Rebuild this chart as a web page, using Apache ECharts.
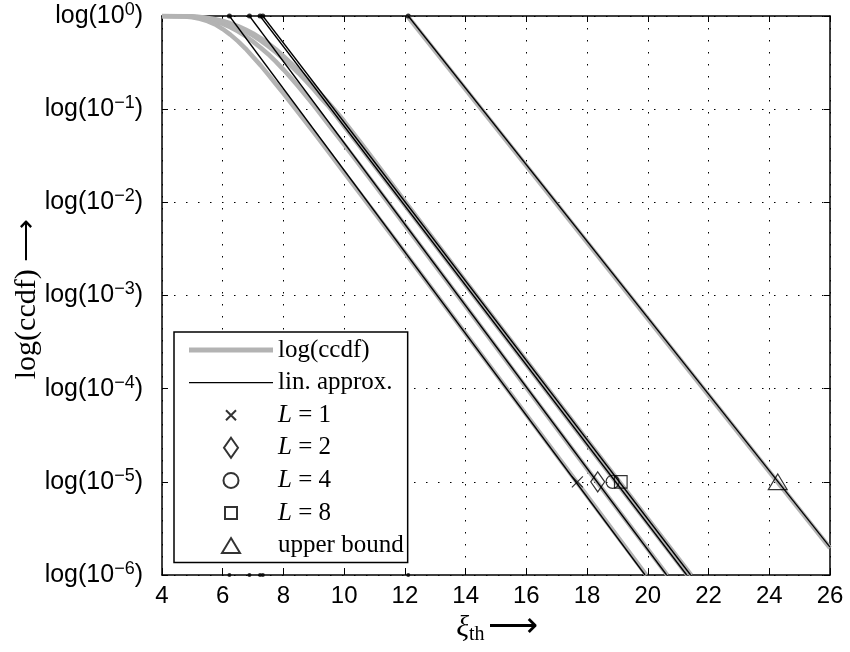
<!DOCTYPE html>
<html>
<head>
<meta charset="utf-8">
<script src="https://cdn.jsdelivr.net/npm/echarts@6/dist/echarts.min.js"></script>
<style>html,body{margin:0;padding:0;background:#fff}#c{width:850px;height:652px}</style>
</head>
<body>
<div id="c"></div>
<script>
// ---- data (x = xi_th, y = exponent of ccdf, i.e. log10) ----
const xTicks = [4, 6, 8, 10, 12, 14, 16, 18, 20, 22, 24, 26];
const yTicks = [-6, -5, -4, -3, -2, -1, 0];

// gray curves: log10(ccdf)
const ccdfL1 = [[4,0],[4.5,-0.002],[4.75,-0.005],[5,-0.013],[5.25,-0.03],[5.5,-0.055],[5.75,-0.09],[6,-0.14],[6.25,-0.2],[6.5,-0.27],[6.75,-0.35],[7,-0.44],[7.25,-0.53],[7.5,-0.63],[7.75,-0.73],[8,-0.83],[8.25,-0.935],[8.5,-1.04],[9,-1.25],[9.5,-1.465],[10,-1.68],[11,-2.11],[12,-2.54],[14,-3.41],[16,-4.28],[18,-5.15],[19.95,-6]];
const ccdfL2 = [[4,0],[4.75,-0.003],[5,-0.008],[5.25,-0.018],[5.5,-0.033],[5.75,-0.055],[6,-0.085],[6.25,-0.12],[6.5,-0.165],[6.75,-0.215],[7,-0.275],[7.25,-0.34],[7.5,-0.41],[7.75,-0.49],[8,-0.575],[8.25,-0.665],[8.5,-0.76],[8.75,-0.86],[9,-0.96],[9.5,-1.17],[10,-1.38],[11,-1.81],[12,-2.245],[14,-3.115],[16,-3.99],[18,-4.86],[20.64,-6]];
const ccdfL4 = [[4,0],[5,-0.005],[5.25,-0.012],[5.5,-0.024],[5.75,-0.04],[6,-0.062],[6.25,-0.09],[6.5,-0.125],[6.75,-0.165],[7,-0.21],[7.25,-0.265],[7.5,-0.325],[7.75,-0.39],[8,-0.46],[8.25,-0.535],[8.5,-0.615],[8.75,-0.7],[9,-0.79],[9.25,-0.885],[9.5,-0.975],[9.75,-1.078],[10,-1.185],[10.5,-1.395],[11,-1.608],[12,-2.034],[14,-2.888],[16,-3.743],[18,-4.598],[21.3,-6]];
const ccdfL8 = [[4,0],[5,-0.004],[5.25,-0.01],[5.5,-0.02],[5.75,-0.034],[6,-0.053],[6.25,-0.078],[6.5,-0.108],[6.75,-0.145],[7,-0.188],[7.25,-0.238],[7.5,-0.294],[7.75,-0.356],[8,-0.43],[8.25,-0.505],[8.5,-0.585],[8.75,-0.668],[9,-0.755],[9.25,-0.845],[9.5,-0.937],[9.75,-1.03],[10,-1.13],[10.5,-1.34],[11,-1.555],[12,-1.99],[14,-2.847],[16,-3.699],[18,-4.55],[21.43,-6]];
const ccdfUpper = [[12.08,0],[26,-5.71]];

// black linear approximations: [start, end]
const linL1 = [[6.22,0],[19.91,-6]];
const linL2 = [[6.88,0],[20.62,-6]];
const linL4 = [[7.23,0],[21.28,-6]];
const linL8 = [[7.32,0],[21.41,-6]];
const linUpper = [[12.11,0],[26,-5.70]];

// start points of the linear approximations (dots on top and bottom frame)
const startX = [6.22, 6.88, 7.23, 7.32, 12.11];

// markers at 10^-5
const markL1 = [[17.68,-5]];
const markL2 = [[18.35,-5]];
const markL4 = [[18.84,-5]];
const markL8 = [[19.11,-5]];
const markUpper = [[24.28,-5]];

const GRAY = '#b3b3b3';
const SERIF = '"Liberation Serif", "Times New Roman", serif';
const SANS = '"Liberation Sans", Arial, Helvetica, sans-serif';

const grayCurves = [ccdfL1, ccdfL2, ccdfL4, ccdfL8, ccdfUpper];
const blackLines = [linL1, linL2, linL4, linL8, linUpper];

const series = [];
grayCurves.forEach(d => series.push({
  name: 'log(ccdf)', type: 'line', data: d, symbol: 'none', showSymbol: false,
  lineStyle: { color: GRAY, width: 4.5, join: 'round' }, itemStyle: { color: GRAY }, z: 2, silent: true
}));
blackLines.forEach(d => series.push({
  name: 'lin. approx.', type: 'line', data: d, symbol: 'none', showSymbol: false,
  lineStyle: { color: '#000', width: 1.3 }, itemStyle: { color: '#000' }, z: 3, silent: true
}));
series.push({
  name: 'dotsTop', type: 'scatter', data: startX.map(x => [x, 0]), symbol: 'circle', symbolSize: 5,
  itemStyle: { color: '#000' }, clip: false, z: 6, silent: true
});
series.push({
  name: 'dotsBottom', type: 'scatter', data: startX.map(x => [x, -6]), symbol: 'circle', symbolSize: 4,
  itemStyle: { color: '#000' }, clip: false, z: 6, silent: true
});
const hollow = { color: 'rgba(0,0,0,0)', borderColor: '#000', borderWidth: 1.2 };
// symbols drawn in a 20x20 box so the legend keeps their relative sizes
const SYM_CROSS = 'path://M0,0M5,5L15,15M15,5L5,15M20,20';
const SYM_DIAMOND = 'path://M0,0M10,0L17,10L10,20L3,10ZM20,20';
const SYM_CIRCLE = 'path://M0,0M17.5,10A7.5,7.5,0,1,1,2.5,10A7.5,7.5,0,1,1,17.5,10ZM20,20';
const SYM_SQUARE = 'path://M0,0M4,4H16V16H4ZM20,20';
const SYM_TRIANGLE = 'path://M0,0M10,2.5L19,17.5H1ZM20,20';
const markerDefs = [
  ['L = 1', markL1, SYM_CROSS, 22],
  ['L = 2', markL2, SYM_DIAMOND, 20],
  ['L = 4', markL4, SYM_CIRCLE, 17.5],
  ['L = 8', markL8, SYM_SQUARE, 21],
  ['upper bound', markUpper, SYM_TRIANGLE, 21]
];
markerDefs.forEach(m => series.push({
  name: m[0], type: 'scatter', data: m[1], symbol: m[2], symbolSize: m[3],
  itemStyle: hollow, z: 7, silent: true
}));

const chart = echarts.init(document.getElementById('c'), null, { renderer: 'canvas' });
const axisCommon = {
  axisLine: { show: true, onZero: false, lineStyle: { color: '#000', width: 1.5 } },
  axisTick: { show: true, inside: true, length: 6, lineStyle: { color: '#000', width: 1 } }
};
const gridDots = { show: true, lineStyle: { color: '#000', type: [1.5, 10.5], width: 1 } };
chart.setOption({
  animation: false,
  backgroundColor: '#fff',
  grid: { left: 162, right: 20, top: 16, bottom: 77, containLabel: false },
  xAxis: [
    Object.assign({
      type: 'value', min: 4, max: 26, interval: 2, position: 'bottom',
      axisLabel: { margin: 9, fontFamily: SANS, fontSize: 24, color: '#000' },
      splitLine: gridDots
    }, axisCommon),
    Object.assign({
      type: 'value', min: 4, max: 26, interval: 2, position: 'top',
      axisLabel: { show: false }, splitLine: { show: false }
    }, axisCommon)
  ],
  yAxis: [
    Object.assign({
      type: 'value', min: -6, max: 0, interval: 1, position: 'left',
      axisLabel: {
        margin: 19, fontFamily: SANS, fontSize: 25, color: '#000', lineHeight: 30,
        formatter: v => 'log(10{s|' + (v === 0 ? '0' : '\u2212' + (-v)) + '})',
        rich: { s: { fontFamily: SANS, fontSize: 18, lineHeight: 30, verticalAlign: 'top', color: '#000', padding: [0, 0, 12, 0] } }
      },
      splitLine: gridDots
    }, axisCommon),
    Object.assign({
      type: 'value', min: -6, max: 0, interval: 1, position: 'right',
      axisLabel: { show: false }, splitLine: { show: false }
    }, axisCommon)
  ],
  legend: {
    orient: 'vertical', left: 174, top: 332,
    itemWidth: 84, itemHeight: 20, itemGap: 6.6,
    padding: [5, 4, 4, 15],
    borderColor: '#000', borderWidth: 1.5, backgroundColor: '#fff',
    selectedMode: false, symbolKeepAspect: true,
    textStyle: { fontFamily: SERIF, fontSize: 25, color: '#000', lineHeight: 26,
      rich: { i: { fontFamily: SERIF, fontSize: 25, fontStyle: 'italic', color: '#000', lineHeight: 26 },
              n: { fontFamily: SERIF, fontSize: 25, color: '#000', lineHeight: 26 } } },
    formatter: name => name.startsWith('L = ') ? '{i|L}{n| = ' + name.slice(4) + '}' : name,
    data: [
      { name: 'log(ccdf)', icon: 'path://M0,0H84V5H0Z', itemStyle: { color: GRAY, borderWidth: 0 } },
      { name: 'lin. approx.', icon: 'path://M0,0H84V1.3H0Z', itemStyle: { color: '#000', borderWidth: 0 } },
      { name: 'L = 1' }, { name: 'L = 2' }, { name: 'L = 4' }, { name: 'L = 8' }, { name: 'upper bound' }
    ]
  },
  graphic: [
    { type: 'text', x: 27, y: 299, rotation: Math.PI / 2,
      style: { text: 'log(ccdf) \u27F6', font: '30px ' + SERIF, fill: '#000', align: 'center', verticalAlign: 'middle' } },
    { type: 'text', x: 497, y: 628,
      style: { text: '{a|\u03BE}{b|th} {c|\u27F6}', align: 'center', verticalAlign: 'middle',
        rich: { a: { font: 'italic 30px ' + SERIF, fill: '#000', lineHeight: 34 },
                b: { font: '20px ' + SERIF, fill: '#000', lineHeight: 34, verticalAlign: 'bottom', padding: [12, 0, 0, 0] },
                c: { font: '35px ' + SERIF, fill: '#000', lineHeight: 34 } } } }
  ],
  series: series
});
</script>
</body>
</html>
